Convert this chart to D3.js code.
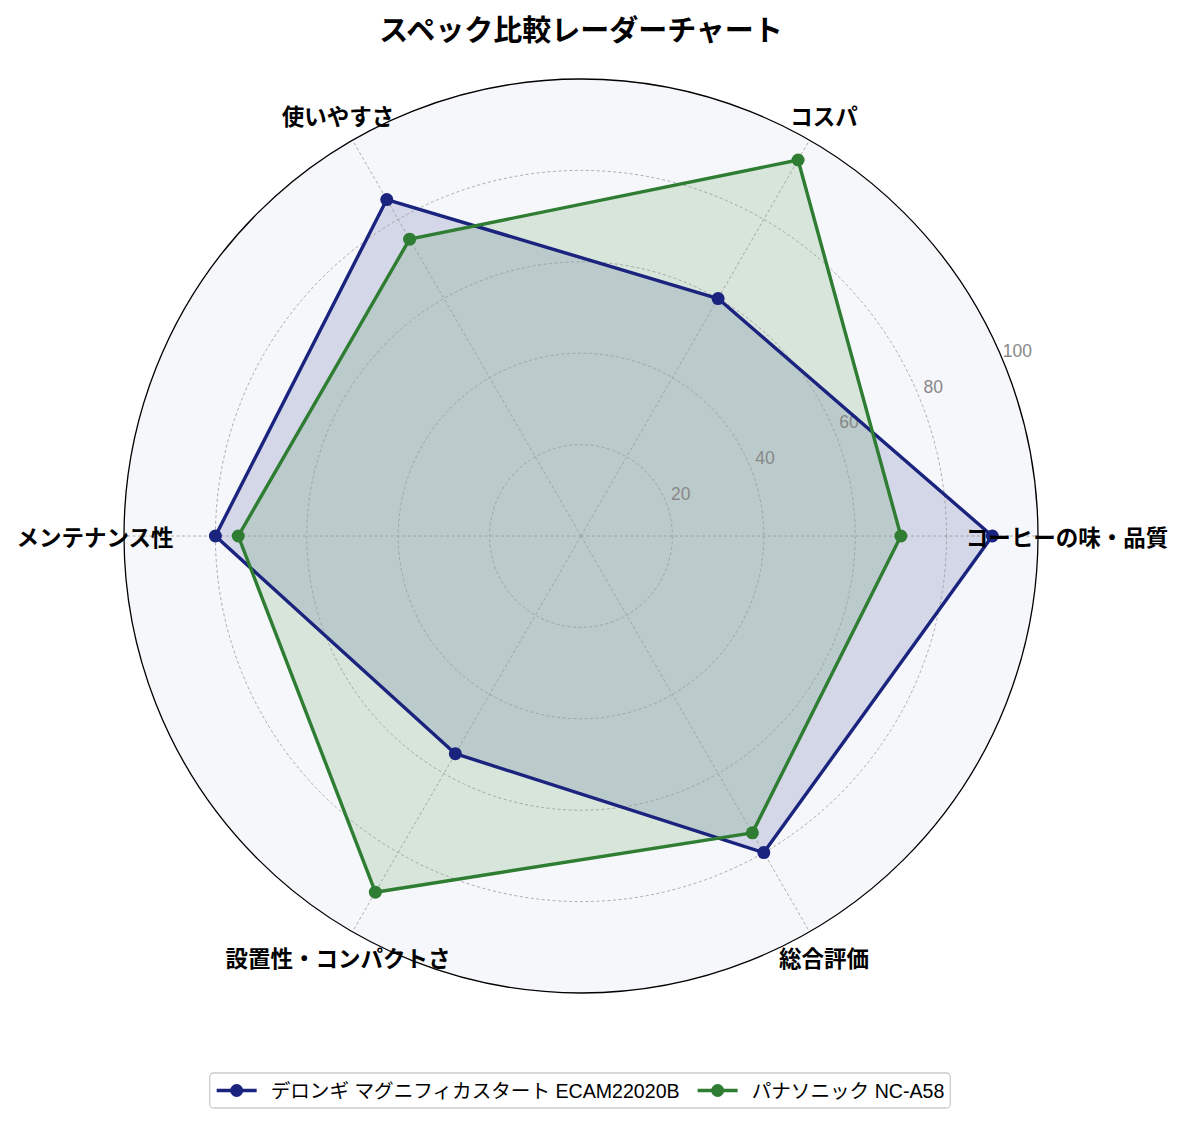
<!DOCTYPE html>
<html>
<head>
<meta charset="utf-8">
<script src="https://cdn.jsdelivr.net/npm/d3@7"></script>
<style>
  body { margin: 0; background: #fff; }
  svg { font-family: "Liberation Sans", "Noto Sans CJK JP", sans-serif; }
</style>
</head>
<body>
<script>
// categories, counter-clockwise starting at the right like matplotlib
var categories = ["コーヒーの味・品質", "コスパ", "使いやすさ", "メンテナンス性", "設置性・コンパクトさ", "総合評価"];
var seriesNames = ["デロンギ マグニフィカスタート ECAM22020B", "パナソニック NC-A58"];
var delonghiValues = [90, 60, 85, 80, 55, 80];
var panasonicValues = [70, 95, 75, 75, 90, 75];
var colors = ["#1a237e", "#2e7d32"];
var rTicks = [20, 40, 60, 80, 100];

var width = 1185, height = 1124;
var cx = 581, cy = 536, radius = 457;

var svg = d3.select("body").append("svg")
	.attr("width", width)
	.attr("height", height);

svg.append("text")
	.attr("x", cx).attr("y", 28)
	.attr("text-anchor", "middle")
	.attr("dominant-baseline", "central")
	.style("font-family", "'Noto Sans CJK JP', sans-serif")
	.style("font-size", "29px")
	.style("font-weight", "bold")
	.text("スペック比較レーダーチャート");

var g = svg.append("g").attr("transform", "translate(" + cx + "," + cy + ")");

var r = d3.scaleLinear().domain([0, 100]).range([0, radius]);
// angle in radians, counter-clockwise from east
var angle = d3.scaleLinear().domain([0, categories.length]).range([0, 2 * Math.PI]);

function px(a, rr) { return Math.cos(a) * rr; }
function py(a, rr) { return -Math.sin(a) * rr; }

// background
g.append("circle").attr("r", radius).attr("fill", "#f5f7fa");

// fills
var series = [delonghiValues, panasonicValues];
var line = d3.line()
	.x(function (d, i) { return px(angle(i), r(d)); })
	.y(function (d, i) { return py(angle(i), r(d)); })
	.curve(d3.curveLinearClosed);

g.selectAll(".area")
	.data(series)
	.enter().append("path")
	.attr("class", "area")
	.attr("d", line)
	.attr("fill", function (d, i) { return colors[i]; })
	.attr("fill-opacity", 0.15)
	.attr("stroke", "none");

// grid
g.selectAll(".ring")
	.data(rTicks.slice(0, -1))
	.enter().append("circle")
	.attr("class", "ring")
	.attr("r", function (d) { return r(d); })
	.attr("fill", "none")
	.attr("stroke", "#999")
	.attr("stroke-width", 0.8)
	.attr("stroke-dasharray", "3,2.5");

g.selectAll(".spoke")
	.data(categories)
	.enter().append("line")
	.attr("class", "spoke")
	.attr("x1", 0).attr("y1", 0)
	.attr("x2", function (d, i) { return px(angle(i), r(100)); })
	.attr("y2", function (d, i) { return py(angle(i), r(100)); })
	.attr("stroke", "#999")
	.attr("stroke-width", 0.8)
	.attr("stroke-dasharray", "3,2.5");

// outer spine
g.append("circle").attr("r", radius)
	.attr("fill", "none").attr("stroke", "#000").attr("stroke-width", 1.3);

// radial tick labels
var labelAngle = 23 * Math.PI / 180;
g.selectAll(".rtick")
	.data(rTicks)
	.enter().append("text")
	.attr("class", "rtick")
	.attr("x", function (d) { return px(labelAngle, r(d) + 17); })
	.attr("y", function (d) { return py(labelAngle, r(d) + 17); })
	.attr("text-anchor", "middle")
	.attr("dominant-baseline", "central")
	.attr("fill", "#888")
	.style("font-size", "17.5px")
	.text(function (d) { return d; });

// series lines and markers
series.forEach(function (vals, si) {
	g.append("path")
		.attr("d", line(vals))
		.attr("fill", "none")
		.attr("stroke", colors[si])
		.attr("stroke-width", 3.4)
		.attr("stroke-linejoin", "round");
	g.selectAll(".dot" + si)
		.data(vals)
		.enter().append("circle")
		.attr("cx", function (d, i) { return px(angle(i), r(d)); })
		.attr("cy", function (d, i) { return py(angle(i), r(d)); })
		.attr("r", 6.5)
		.attr("fill", colors[si]);
});

// category labels
g.selectAll(".cat")
	.data(categories)
	.enter().append("text")
	.attr("class", "cat")
	.attr("x", function (d, i) { return px(angle(i), 486); })
	.attr("y", function (d, i) { return py(angle(i), 486); })
	.attr("text-anchor", "middle")
	.attr("dominant-baseline", "central")
	.style("font-family", "'Noto Sans CJK JP', sans-serif")
	.style("font-size", "22.5px")
	.style("font-weight", "bold")
	.text(function (d) { return d; });

// legend
var legend = svg.append("g");
var lx = 0, ly = 1073, lh = 35;
var box = legend.append("rect")
	.attr("x", lx).attr("y", ly)
	.attr("height", lh).attr("rx", 4)
	.attr("fill", "#fff").attr("stroke", "#ccc").attr("stroke-width", 1.3);

var xpos = lx + 7;
seriesNames.forEach(function (name, i) {
	var item = legend.append("g").attr("transform", "translate(" + xpos + "," + (ly + lh / 2) + ")");
	item.append("line").attr("x1", 0).attr("x2", 40)
		.attr("stroke", colors[i]).attr("stroke-width", 3.4);
	item.append("circle").attr("cx", 20).attr("r", 6.5).attr("fill", colors[i]);
	var t = item.append("text").attr("x", 54)
		.attr("dominant-baseline", "central")
		.style("font-size", "19.6px")
		.text(name);
	xpos += 54 + t.node().getComputedTextLength() + 18;
});
var boxW = xpos - lx - 12;
box.attr("width", boxW);
legend.attr("transform", "translate(" + (580 - boxW / 2) + ",0)");
</script>
</body>
</html>
